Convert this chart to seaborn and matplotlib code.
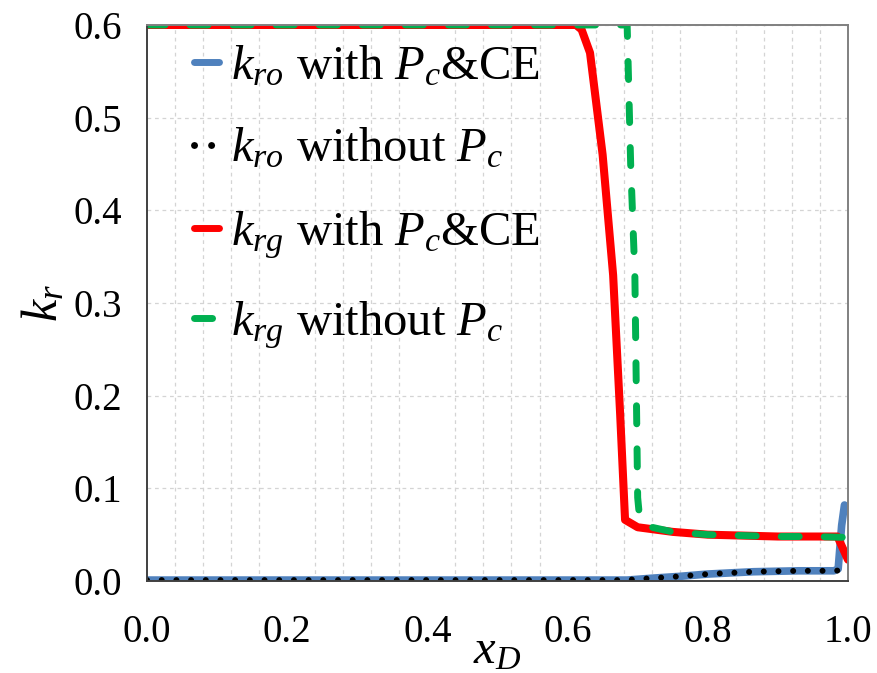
import numpy as np
import matplotlib
matplotlib.use("Agg")
import matplotlib.pyplot as plt
from matplotlib.ticker import MultipleLocator
import seaborn as sns

# Relative permeability profiles along the dimensionless distance x_D
kro_pc_x = [0.0, 0.30, 0.60, 0.685, 0.72, 0.76, 0.80, 0.865, 0.93, 0.98, 0.986, 0.991, 0.995]
kro_pc_y = [0.001, 0.001, 0.001, 0.001, 0.003, 0.005, 0.0075, 0.010, 0.011, 0.011, 0.013, 0.060, 0.082]

kro_nopc_x = [0.0, 0.30, 0.60, 0.68, 0.72, 0.76, 0.80, 0.865, 0.93, 0.98, 1.0]
kro_nopc_y = [0.001, 0.001, 0.001, 0.001, 0.003, 0.005, 0.0075, 0.010, 0.011, 0.011, 0.012]

krg_pc_x = [0.0, 0.612, 0.62, 0.632, 0.65, 0.665, 0.675, 0.682, 0.70, 0.75, 0.80, 0.85, 0.90, 0.95, 0.985, 1.0]
krg_pc_y = [0.6, 0.6, 0.595, 0.57, 0.46, 0.33, 0.18, 0.066, 0.058, 0.053, 0.050, 0.049, 0.048, 0.048, 0.048, 0.023]

krg_nopc_x = [0.0, 0.685, 0.690, 0.696, 0.700, 0.703, 0.72, 0.75, 0.80, 0.85, 0.90, 0.95, 1.0]
krg_nopc_y = [0.6, 0.6, 0.45, 0.33, 0.09, 0.066, 0.058, 0.053, 0.050, 0.049, 0.048, 0.048, 0.047]

labels = [
    r"$k_{ro}$ with $P_c$&CE",
    r"$k_{ro}$ without $P_c$",
    r"$k_{rg}$ with $P_c$&CE",
    r"$k_{rg}$ without $P_c$",
]

x_ticks = [0.0, 0.2, 0.4, 0.6, 0.8, 1.0]
y_ticks = [0.0, 0.1, 0.2, 0.3, 0.4, 0.5, 0.6]

sns.set_theme(style="white")
plt.rcParams["font.family"] = ["Liberation Serif", "DejaVu Serif"]
plt.rcParams["mathtext.fontset"] = "custom"
plt.rcParams["mathtext.rm"] = "Liberation Serif"
plt.rcParams["mathtext.it"] = "Liberation Serif:italic"
plt.rcParams["mathtext.bf"] = "Liberation Serif:bold"
plt.rcParams["text.color"] = "black"
plt.rcParams["axes.labelcolor"] = "black"
plt.rcParams["xtick.color"] = "black"
plt.rcParams["ytick.color"] = "black"

fig = plt.figure(figsize=(8.78, 6.73), dpi=100)
ax = fig.add_axes([0.1674, 0.1367, 0.7984, 0.8262])

sns.lineplot(x=kro_pc_x, y=kro_pc_y, ax=ax, color="#4f81bd", lw=5.5,
             sort=False, estimator=None, label=labels[0],
             solid_capstyle="round", solid_joinstyle="round")
sns.lineplot(x=kro_nopc_x, y=kro_nopc_y, ax=ax, color="black", lw=4.3,
             sort=False, estimator=None, label=labels[1],
             linestyle=(0, (0.01, 2.45)), dash_capstyle="round")
sns.lineplot(x=krg_pc_x, y=krg_pc_y, ax=ax, color="#ff0000", lw=5.8,
             sort=False, estimator=None, label=labels[2],
             solid_capstyle="round", solid_joinstyle="round")
sns.lineplot(x=krg_nopc_x, y=krg_nopc_y, ax=ax, color="#00b050", lw=5.0,
             sort=False, estimator=None, label=labels[3],
             linestyle=(0, (2.6, 3.6)), dash_capstyle="round")

ax.set_xlim(0, 1.0)
ax.set_ylim(0, 0.6)
ax.set_xticks(x_ticks)
ax.set_xticklabels([f"{v:.1f}" for v in x_ticks])
ax.set_yticks(y_ticks)
ax.set_yticklabels([f"{v:.1f}" for v in y_ticks])
ax.xaxis.set_minor_locator(MultipleLocator(0.04))

ax.grid(False)
ax.grid(which="minor", axis="x", color="#d4d4d4", linestyle=(0, (3, 3)), lw=0.9)
ax.grid(which="major", axis="y", color="#d4d4d4", linestyle=(0, (3, 3)), lw=0.9)
ax.set_axisbelow(True)

ax.tick_params(axis="both", which="major", direction="out", length=12, width=1.2,
               color="#404040", labelcolor="black", labelsize=28, pad=6)
ax.tick_params(axis="x", which="minor", length=0)
ax.tick_params(axis="x", pad=12)

for side in ["left", "bottom"]:
    ax.spines[side].set_color("#404040")
    ax.spines[side].set_linewidth(1.4)
for side in ["top", "right"]:
    ax.spines[side].set_color("#808080")
    ax.spines[side].set_linewidth(1.4)

ax.set_xlabel(r"$x_D$", fontsize=35, labelpad=-16, color="black")
ax.set_ylabel(r"$k_r$", fontsize=36, labelpad=4, color="black")

leg = ax.legend(loc="upper left", bbox_to_anchor=(0.04, 1.0), frameon=False,
                fontsize=35, handlelength=0.5, handletextpad=0.25,
                labelspacing=0.78, borderaxespad=0.0, labelcolor="black")
for h in leg.legend_handles:
    h.set_linewidth(5)
    h.set_solid_capstyle("round")

fig.savefig("out.png", dpi=100)
